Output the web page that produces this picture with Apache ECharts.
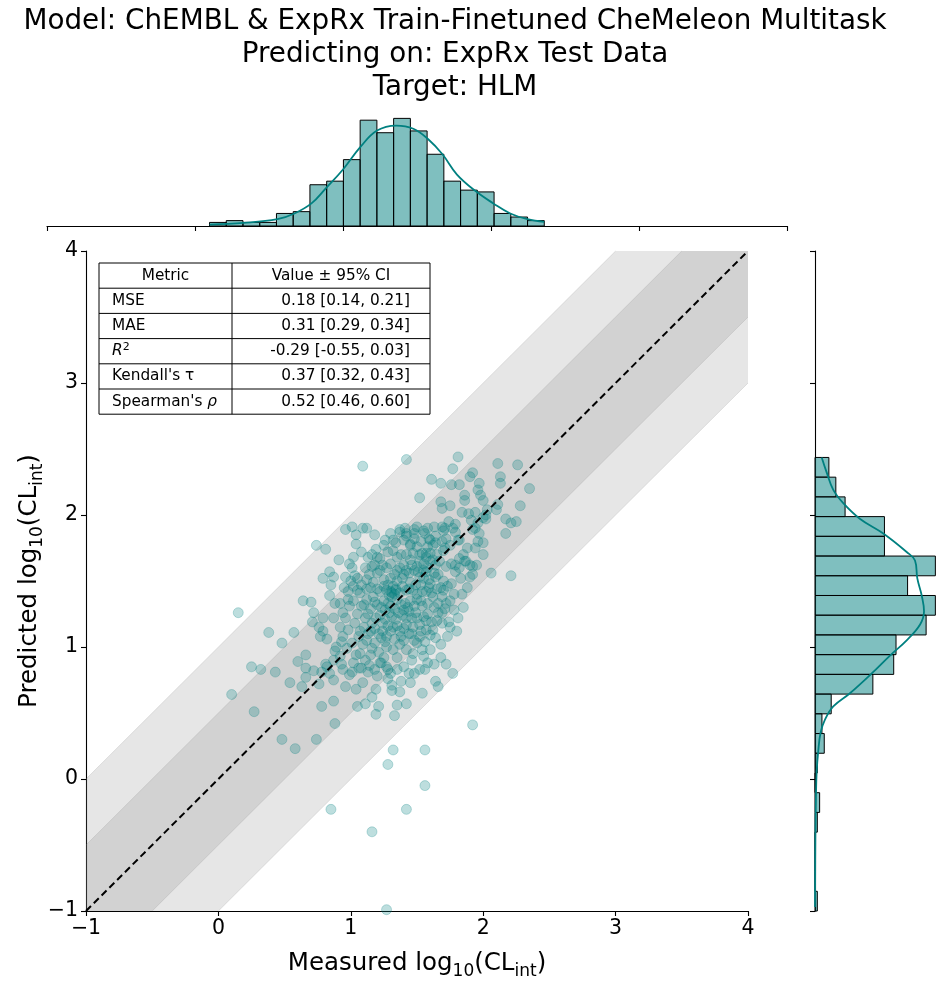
<!DOCTYPE html>
<html>
<head>
<meta charset="utf-8">
<script src="https://cdn.jsdelivr.net/npm/echarts@6/dist/echarts.min.js"></script>
<style>html,body{margin:0;padding:0;background:#fff}#c{width:950px;height:988px}</style>
</head>
<body>
<div id="c"></div>
<script>
// ---------- data ----------
const titleLines = ['Model: ChEMBL & ExpRx Train-Finetuned CheMeleon Multitask', 'Predicting on: ExpRx Test Data', 'Target: HLM'];
const axisRange = [-1, 4];
const bandOffsets = [1, 0.5];

// measured, predicted pairs
const scatterPoints = [
[1.09,2.37],[1.42,2.42],[0.74,1.77],[0.81,1.74],[0.96,1.89],[1.01,1.91],[1.04,1.85],[1.09,1.90],[1.12,1.90],[1.18,1.85],
[1.04,1.78],[0.91,1.66],[0.99,1.63],[1.02,1.68],[1.01,1.60],[0.84,1.57],[0.87,1.53],[0.79,1.52],[0.96,1.53],[1.03,1.54],
[0.85,1.47],[0.64,1.35],[0.70,1.34],[0.72,1.26],[0.71,1.19],[0.76,1.15],[0.79,1.12],[0.77,1.08],[0.82,1.06],[0.38,1.11],
[0.48,1.03],[0.57,1.11],[0.25,0.85],[0.32,0.83],[0.43,0.81],[0.54,0.73],[0.63,0.70],[0.60,0.89],[0.66,0.94],[0.72,0.82],
[0.66,0.84],[0.66,0.77],[0.81,0.87],[0.87,0.90],[0.88,0.97],[0.93,0.87],[0.96,0.70],[1.04,0.68],[0.87,0.75],[0.78,0.55],
[0.87,0.59],[1.05,0.55],[1.11,0.57],[1.19,0.49],[1.21,0.55],[1.33,0.48],[1.35,0.56],[0.27,0.51],[0.88,0.42],[0.48,0.30],
[0.74,0.30],[0.10,0.64],[0.15,1.26],
[0.58,0.23],[0.76,0.72],[1.01,0.81],[1.06,0.84],[1.09,0.73],[1.13,0.81],[1.16,0.62],[1.19,0.68],[1.23,0.88],[1.28,0.83],
[1.31,0.71],[1.31,0.67],[1.37,0.66],[1.42,0.57],[1.45,0.73],[1.48,0.80],[1.54,0.65],[1.52,0.83],[1.56,0.83],[1.63,0.87],
[1.64,0.74],[1.66,0.70],[1.72,0.87],[1.77,0.80],[1.32,0.22],[1.56,0.22],[1.28,0.11],
[1.92,0.41],[1.56,-0.05],[0.85,-0.23],[1.42,-0.23],[1.16,-0.40],[1.27,-0.99],
[1.81,2.44],[1.77,2.35],[1.61,2.27],[1.68,2.24],[1.52,2.13],[1.92,2.32],[1.90,2.29],[2.11,2.39],[2.26,2.38],[2.13,2.29],
[2.13,2.24],[2.35,2.20],[1.76,2.23],[1.82,2.23],[1.97,2.24],[1.96,2.19],[1.98,2.15],[1.86,2.15],[1.86,2.11],[2.00,2.11],
[1.68,2.10],[1.69,2.05],[1.75,2.07],[1.84,2.02],[1.89,2.01],[1.94,2.02],[2.03,2.04],[2.11,2.08],[2.10,2.04],[2.00,1.98],
[2.02,2.00],[2.28,2.07],[2.17,1.97],[2.21,1.94],[2.25,1.95],[2.17,1.86],[1.94,1.90],[1.97,1.86],[1.79,1.93],[1.69,1.91],
[1.71,1.90],[1.63,1.91],[1.59,1.82],[1.74,1.95],[1.79,1.87],[1.82,1.81],[1.88,1.75],[1.94,1.75],[2.00,1.79],[2.06,1.56],
[2.21,1.54],[1.84,1.40],[1.76,1.48],[1.81,1.22],[1.75,1.15],[1.90,1.53],[1.92,1.61],[1.87,1.65],[1.85,1.70],[1.82,1.67],
[1.79,1.57],[1.72,1.61],[1.76,1.63],[1.67,1.65],[1.63,1.56],[1.60,1.48],[1.55,1.58],[1.52,1.65],[1.57,1.68],[1.54,1.71],
[1.69,1.80],[1.72,1.82],[1.75,1.77],[1.81,1.81],[1.71,1.75],[1.60,1.81],[1.62,1.77],[1.56,1.86],[1.48,1.89],[1.42,1.86],
[1.37,1.89],[1.30,1.86],[1.32,1.81],[1.40,1.81],[1.45,1.78],[1.48,1.82],
[2.02,1.97],[1.70,1.88],[1.77,1.90],[1.91,1.96],[1.96,1.94],[1.92,1.89],[1.96,1.80],[1.50,1.91],[1.48,1.86],[1.55,1.88],
[1.58,1.90],[1.64,1.84],[1.64,1.79],[1.50,1.76],[1.57,1.71],[1.65,1.70],[1.70,1.73],
[1.11,1.60],[1.16,1.61],[1.20,1.56],[1.24,1.62],[1.30,1.63],[1.35,1.58],[1.40,1.62],[1.44,1.56],[1.39,1.52],[1.30,1.52],
[1.25,1.51],[1.17,1.49],[1.12,1.51],[1.08,1.47],[1.05,1.43],[0.84,1.39],[0.88,1.33],[0.94,1.26],[0.92,1.33],[0.98,1.36],
[0.99,1.31],[0.79,1.22],[0.87,1.22],[0.92,1.15],[0.94,1.08],[0.98,1.13],[1.01,1.03],[0.97,0.99],[0.93,1.04],[0.89,1.00],
[0.92,0.93],[0.82,0.85],[0.84,0.80],[0.78,0.81],[0.94,0.83],[0.99,0.79],[1.08,0.84],[1.02,0.88],[1.11,0.90],[1.07,0.95],
[1.15,0.94],[1.18,0.83],[1.22,0.88],[1.27,0.85],[1.30,0.80],[1.35,0.83],[1.40,0.85],[1.44,0.80],
[1.07,1.41],[1.12,1.36],[1.17,1.38],[1.22,1.42],[1.27,1.43],[1.32,1.46],[1.37,1.41],[1.42,1.43],[1.08,1.31],[1.15,1.29],
[1.20,1.32],[1.25,1.35],[1.30,1.31],[1.35,1.36],[1.41,1.33],[1.11,1.22],[1.16,1.18],[1.22,1.24],[1.26,1.21],[1.31,1.23],
[1.36,1.26],[1.42,1.22],[1.07,1.12],[1.13,1.10],[1.18,1.14],[1.23,1.07],[1.30,1.12],[1.35,1.16],[1.40,1.14],[1.44,1.10],
[1.09,1.02],[1.16,0.99],[1.21,0.96],[1.27,1.00],[1.32,0.98],[1.37,1.02],[1.42,0.98],
[1.92,1.55],[1.74,1.19],[1.69,1.26],[1.66,1.26],[1.69,1.18],[1.61,1.19],[1.57,1.20],[1.62,1.13],[1.60,1.09],[1.69,1.38],
[1.70,1.43],[1.65,1.44],[1.61,1.41],[1.66,1.33],[1.72,1.33],[1.71,1.29],[1.50,1.61],[1.55,1.63],[1.60,1.65],[1.57,1.57],
[1.52,1.53],[1.59,1.51],[1.64,1.53],[1.79,1.62],[1.82,1.60],[1.86,1.65],[1.90,1.62],[1.47,1.43],[1.50,1.36],[1.54,1.31],
[1.49,1.26],[1.55,1.23],[1.47,1.15],[1.52,1.08],[1.50,1.03],[1.56,1.04],[1.54,0.98],[1.47,0.95],[1.55,0.93],
[1.37,1.87],[1.41,1.90],[1.42,1.84],[1.20,1.68],[1.25,1.77],[1.32,1.73],
[1.38,1.70],[1.45,1.66],[1.48,1.58],[1.53,1.47],[1.57,1.42],[1.45,1.49],[1.40,1.55],[1.35,1.50],[1.28,1.47],[1.13,1.68],
[1.08,1.72],[1.19,1.74],[1.26,1.81],[1.34,1.79],[1.47,1.71],[1.52,1.70],[1.60,1.71],[1.64,1.62],[1.66,1.55],[1.70,1.50],
[1.73,1.46],[1.62,1.38],[1.58,1.33],[1.50,1.40],[1.45,1.35],[1.40,1.28],[1.31,1.38],[1.26,1.28],[1.12,1.44],[1.05,1.52],
[1.02,1.46],[0.98,1.42],[0.96,1.22],[1.03,1.18],[1.06,1.08],[1.18,1.03],[1.24,1.12],[1.28,1.16],[1.33,1.06],[1.38,1.08],
[1.46,1.22],[1.52,1.17],[1.57,1.13],[1.64,1.07],[1.68,1.02],[1.60,0.98],[1.48,1.05],[1.42,1.17],[1.35,0.92],[1.25,0.92],
[1.14,0.86],[1.04,0.94],[1.20,0.78],[1.28,0.76],[1.38,0.74],[1.46,0.90],[1.58,0.88],[1.68,0.92],[1.73,1.08],[1.80,1.12],
[1.85,1.30],[1.88,1.45],[1.95,1.62],[2.00,1.70],[1.78,1.40],[1.83,1.52],
[1.14,1.55],[1.18,1.62],[1.22,1.58],[1.27,1.60],[1.33,1.55],[1.37,1.60],[1.42,1.58],[1.46,1.62],[1.51,1.57],[1.55,1.52],
[1.58,1.60],[1.62,1.66],[1.15,1.45],[1.20,1.44],[1.25,1.46],[1.30,1.42],[1.34,1.44],[1.39,1.46],[1.44,1.44],[1.49,1.47],
[1.54,1.42],[1.59,1.45],[1.10,1.32],[1.18,1.34],[1.23,1.30],[1.28,1.33],[1.33,1.29],[1.38,1.32],[1.43,1.30],[1.48,1.31],
[1.53,1.35],[1.63,1.30],[1.13,1.25],[1.19,1.22],[1.24,1.18],[1.29,1.26],[1.34,1.21],[1.39,1.24],[1.44,1.27],[1.50,1.22],
[1.58,1.25],[1.10,1.15],[1.15,1.12],[1.21,1.10],[1.27,1.08],[1.32,1.15],[1.37,1.12],[1.46,1.10],[1.53,1.12],[1.28,1.72],
[1.35,1.68],[1.42,1.70],[1.22,1.67],[1.16,1.70],[1.45,1.77],[1.53,1.80],[1.58,1.76],[1.12,1.05],[1.26,1.04],[1.40,1.05],
[1.05,1.25],[1.02,1.35],[0.95,1.45],[1.00,1.50],[1.65,1.20],[1.68,1.45],[1.75,1.35],[1.78,1.28],
[1.31,1.41],[1.33,1.40],[1.29,1.39],[1.34,1.43]
];

// top marginal histogram (measured)
const topBinStart = 0.098;
const topBinWidth = 0.1131;
const topCounts = [2, 3, 2, 2, 7, 8, 23, 25, 37, 59, 52, 60, 53, 40, 25, 20, 19, 7, 5, 3];
const topKde = [[0.098,0.75],[0.328,1.7],[0.557,3.8],[0.672,7.0],[0.787,12.6],[0.885,21.1],[1.0,31.5],[1.115,43.8],[1.23,53.2],[1.36,56],[1.475,54.2],[1.574,48.5],[1.672,40],[1.77,28.7],[1.90,19.2],[2.016,12.6],[2.13,7],[2.246,3.8],[2.36,2.3]];

// right marginal histogram (predicted), bins listed from top to bottom
const rightBinTop = 2.436;
const rightBinWidth = 0.1494;
const rightCounts = [6, 9, 13, 30, 30, 52, 40, 52, 48, 35, 34, 25, 7, 3, 4, 1, 0, 2, 1, 0, 0, 0, 1];
const rightKde = [[2.9,2.436],[5.0,2.325],[7.9,2.19],[12.2,2.09],[19.5,1.97],[29.5,1.86],[39.6,1.72],[43.2,1.655],[44.2,1.52],[46.1,1.39],[47.1,1.27],[45.4,1.17],[39.6,1.05],[32.4,0.935],[24.5,0.80],[15.1,0.65],[7.9,0.55],[4.3,0.45],[2.4,0.35],[1.4,0.21],[0.7,0.05],[0.4,-0.15],[0.15,-0.45],[0.05,-0.79],[0,-0.97]];

// metrics table
const tableHeader = ['Metric', 'Value \u00b1 95% CI'];
const metricNames = ['MSE', 'MAE', '{i|R}{sup|2}', 'Kendall\'s \u03c4', 'Spearman\'s {i|\u03c1}'];
const metricValues = ['0.18 [0.14, 0.21]', '0.31 [0.29, 0.34]', '-0.29 [-0.55, 0.03]', '0.37 [0.32, 0.43]', '0.52 [0.46, 0.60]'];

// ---------- chart ----------
const FONT = 'DejaVu Sans';
const TEAL = '#008080';
const chart = echarts.init(document.getElementById('c'), null, {renderer: 'canvas'});

const topBars = topCounts.map((c, i) => [topBinStart + i * topBinWidth, topBinStart + (i + 1) * topBinWidth, c]);
const rightBars = rightCounts.map((c, i) => [rightBinTop - (i + 1) * rightBinWidth, rightBinTop - i * rightBinWidth, c]);
const [lo, hi] = axisRange;

const fmt = v => (v < 0 ? '\u2212' + Math.abs(v) : String(v));
const nameRich = {
  n: {fontSize: 24.5, fontFamily: FONT, color: '#000', lineHeight: 32, verticalAlign: 'middle'},
  s: {fontSize: 17, fontFamily: FONT, color: '#000', lineHeight: 17, verticalAlign: 'bottom'}
};

const MAIN = {left: 86, top: 251, width: 662, height: 660};
const TFS = 15.3;

// table graphics
const tX0 = 99, tX1 = 232, tX2 = 430, tY0 = 263, rowH = 25.2;
const tableEls = [];
const nRows = metricNames.length + 1;
tableEls.push({type: 'rect', shape: {x: tX0, y: tY0, width: tX2 - tX0, height: rowH * nRows}, style: {fill: '#fff', stroke: '#000', lineWidth: 1}, z: 100});
for (let r = 1; r < nRows; r++) {
  tableEls.push({type: 'line', shape: {x1: tX0, y1: tY0 + r * rowH, x2: tX2, y2: tY0 + r * rowH}, style: {stroke: '#000', lineWidth: 1}, z: 101});
}
tableEls.push({type: 'line', shape: {x1: tX1, y1: tY0, x2: tX1, y2: tY0 + rowH * nRows}, style: {stroke: '#000', lineWidth: 1}, z: 101});
const cellRich = {
  i: {fontSize: TFS, fontFamily: FONT, fontStyle: 'italic', lineHeight: 19, verticalAlign: 'middle', fill: '#000'},
  sup: {fontSize: 11, fontFamily: FONT, lineHeight: 11, verticalAlign: 'top', fill: '#000'}
};
tableEls.push({type: 'text', x: (tX0 + tX1) / 2, y: tY0 + rowH / 2, z: 102, style: {text: tableHeader[0], font: TFS + 'px ' + FONT, fill: '#000', align: 'center', verticalAlign: 'middle'}});
tableEls.push({type: 'text', x: (tX1 + tX2) / 2, y: tY0 + rowH / 2, z: 102, style: {text: tableHeader[1], font: TFS + 'px ' + FONT, fill: '#000', align: 'center', verticalAlign: 'middle'}});
metricNames.forEach((m, k) => {
  const cy = tY0 + (k + 1.5) * rowH;
  tableEls.push({type: 'text', x: tX0 + 13, y: cy, z: 102, style: {text: m, font: TFS + 'px ' + FONT, fill: '#000', align: 'left', verticalAlign: 'middle', rich: cellRich}});
  tableEls.push({type: 'text', x: tX2 - 20, y: cy, z: 102, style: {text: metricValues[k], font: TFS + 'px ' + FONT, fill: '#000', align: 'right', verticalAlign: 'middle'}});
});

function bandPoly(d) {
  return [[lo, lo], [lo, lo + d], [hi - d, hi], [hi, hi], [hi, hi - d], [lo + d, lo]];
}

const option = {
  animation: false,
  backgroundColor: '#fff',
  grid: [
    {left: MAIN.left, top: MAIN.top, width: MAIN.width, height: MAIN.height},
    {left: 47, top: 113, width: 740, height: 113},
    {left: 815, top: 251, width: 125, height: 660}
  ],
  xAxis: [
    {gridIndex: 0, type: 'value', min: lo, max: hi, interval: 1,
      axisLine: {onZero: false, lineStyle: {color: '#000', width: 1.1}},
      axisTick: {length: 5, lineStyle: {color: '#000', width: 1.1}},
      axisLabel: {fontSize: 20.5, fontFamily: FONT, color: '#000', margin: 7, formatter: fmt},
      splitLine: {show: false},
      name: '{n|Measured log}{s|10}{n|(CL}{s|int}{n|)}', nameLocation: 'middle', nameGap: 37, nameMoveOverlap: false,
      nameTextStyle: {rich: nameRich}},
    {gridIndex: 1, type: 'value', min: lo, max: hi, interval: 1,
      axisLine: {onZero: false, lineStyle: {color: '#000', width: 1.1}},
      axisTick: {length: 5, lineStyle: {color: '#000', width: 1.1}},
      axisLabel: {show: false}, splitLine: {show: false}},
    {gridIndex: 2, type: 'value', min: 0, max: 54, show: false}
  ],
  yAxis: [
    {gridIndex: 0, type: 'value', min: lo, max: hi, interval: 1,
      axisLine: {onZero: false, lineStyle: {color: '#000', width: 1.1}},
      axisTick: {length: 5, lineStyle: {color: '#000', width: 1.1}},
      axisLabel: {fontSize: 20.5, fontFamily: FONT, color: '#000', margin: 8, formatter: fmt},
      splitLine: {show: false},
      name: '{n|Predicted log}{s|10}{n|(CL}{s|int}{n|)}', nameLocation: 'middle', nameGap: 40, nameRotate: 90, nameMoveOverlap: false,
      nameTextStyle: {rich: nameRich}},
    {gridIndex: 1, type: 'value', min: 0, max: 63, show: false},
    {gridIndex: 2, type: 'value', min: lo, max: hi, interval: 1,
      axisLine: {onZero: false, lineStyle: {color: '#000', width: 1.1}},
      axisTick: {length: 5, lineStyle: {color: '#000', width: 1.1}},
      axisLabel: {show: false}, splitLine: {show: false}}
  ],
  graphic: [
    {type: 'text', x: 455, y: 5, z: 10, style: {text: titleLines.join('\n'), font: '27.8px ' + FONT, fill: '#000', align: 'center', lineHeight: 33}},
    ...tableEls
  ],
  series: [
    {type: 'custom', xAxisIndex: 0, yAxisIndex: 0, silent: true, z: 1,
      data: bandOffsets.map(d => [d]),
      renderItem: function (params, api) {
        const d = api.value(0);
        const poly = bandPoly(d).map(p => api.coord(p));
        const e1 = [api.coord([lo, lo + d]), api.coord([hi - d, hi])];
        const e2 = [api.coord([lo + d, lo]), api.coord([hi, hi - d])];
        const c = 'rgba(128,128,128,0.2)';
        return {type: 'group', children: [
          {type: 'polygon', shape: {points: poly}, style: {fill: c}},
          {type: 'line', shape: {x1: e1[0][0], y1: e1[0][1], x2: e1[1][0], y2: e1[1][1]}, style: {stroke: c, lineWidth: 1}},
          {type: 'line', shape: {x1: e2[0][0], y1: e2[0][1], x2: e2[1][0], y2: e2[1][1]}, style: {stroke: c, lineWidth: 1}}
        ]};
      }},
    {type: 'line', xAxisIndex: 0, yAxisIndex: 0, silent: true, z: 3, symbol: 'none',
      data: [[lo, lo], [hi, hi]],
      lineStyle: {color: '#000', width: 2, type: [7, 4]}},
    {type: 'scatter', xAxisIndex: 0, yAxisIndex: 0, silent: true, z: 2, symbolSize: 10,
      data: scatterPoints,
      itemStyle: {color: 'rgba(0,128,128,0.32)', borderColor: 'rgba(0,128,128,0.3)', borderWidth: 1}},
    {type: 'custom', xAxisIndex: 1, yAxisIndex: 1, silent: true, z: 2,
      data: topBars,
      renderItem: function (params, api) {
        const p0 = api.coord([api.value(0), 0]);
        const p1 = api.coord([api.value(1), api.value(2)]);
        return {type: 'rect', shape: {x: p0[0], y: p1[1], width: p1[0] - p0[0], height: p0[1] - p1[1]},
          style: {fill: 'rgba(0,128,128,0.5)', stroke: '#000', lineWidth: 1}};
      }},
    {type: 'line', xAxisIndex: 1, yAxisIndex: 1, silent: true, z: 3, symbol: 'none', smooth: 0.4,
      data: topKde, lineStyle: {color: TEAL, width: 1.8}},
    {type: 'custom', xAxisIndex: 2, yAxisIndex: 2, silent: true, z: 2,
      data: rightBars,
      encode: {x: 2, y: [0, 1]},
      renderItem: function (params, api) {
        const p0 = api.coord([0, api.value(0)]);
        const p1 = api.coord([api.value(2), api.value(1)]);
        return {type: 'rect', shape: {x: p0[0], y: p1[1], width: p1[0] - p0[0], height: p0[1] - p1[1]},
          style: {fill: 'rgba(0,128,128,0.5)', stroke: '#000', lineWidth: 1}};
      }},
    {type: 'line', xAxisIndex: 2, yAxisIndex: 2, silent: true, z: 3, symbol: 'none', smooth: 0.4,
      data: rightKde, lineStyle: {color: TEAL, width: 1.8}}
  ]
};
chart.setOption(option);
</script>
</body>
</html>
